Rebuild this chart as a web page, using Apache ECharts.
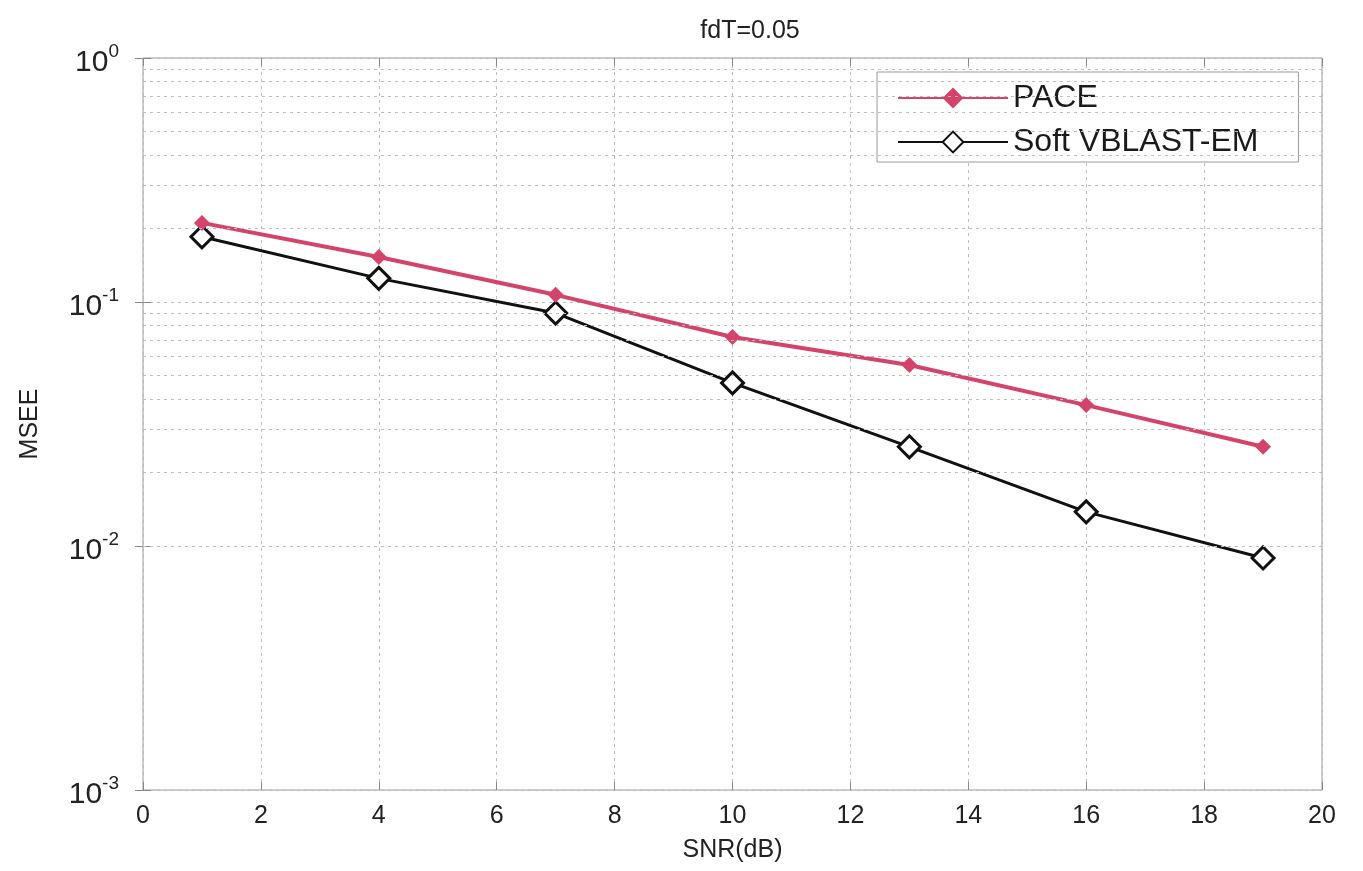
<!DOCTYPE html>
<html>
<head>
<meta charset="utf-8">
<script src="https://cdn.jsdelivr.net/npm/echarts@6/dist/echarts.min.js"></script>
<style>
  html, body { margin: 0; padding: 0; background: #fff; }
  #chart { width: 1363px; height: 871px; }
</style>
</head>
<body>
<div id="chart"></div>
<script>
// 数据
const snr = [1, 4, 7, 10, 13, 16, 19];
const pace = [0.211, 0.153, 0.107, 0.0719, 0.0552, 0.0378, 0.0255];
const softVblast = [0.185, 0.125, 0.0901, 0.0466, 0.0255, 0.0138, 0.00893];
// 对数坐标的次网格线 (2..9 x 10^n)
const minorLevels = [
  0.002, 0.003, 0.004, 0.005, 0.006, 0.007, 0.008, 0.009,
  0.02, 0.03, 0.04, 0.05, 0.06, 0.07, 0.08, 0.09,
  0.2, 0.3, 0.4, 0.5, 0.6, 0.7, 0.8, 0.9
];

const FONT = 'Liberation Sans';
const gridDash = { color: '#bdbdbd', width: 1, type: [3, 4] };

const chart = echarts.init(document.getElementById('chart'));

// y轴标签 10^n
function powLabel (v) {
  const e = Math.round(Math.log10(v));
  return '{b|10}{s|' + e + '}';
}

const option = {
  backgroundColor: '#fff',
  animation: false,
  textStyle: { fontFamily: FONT, color: '#222' },
  title: {
    text: 'fdT=0.05',
    left: 745,
    top: 14,
    textAlign: 'center',
    textStyle: { fontFamily: FONT, fontSize: 25, fontWeight: 'normal', color: '#222' }
  },
  grid: {
    left: 143, right: 41, top: 58, bottom: 81,
    show: true, borderColor: '#999', borderWidth: 1
  },
  legend: {
    orient: 'vertical',
    left: 877,
    top: 72,
    padding: [10, 40, 4, 20],
    itemGap: 12,
    itemWidth: 110,
    itemHeight: 26,
    backgroundColor: '#fff',
    borderColor: '#999',
    borderWidth: 1,
    textStyle: { fontFamily: FONT, fontSize: 32, color: '#1a1a1a' },
    data: ['PACE', 'Soft VBLAST-EM']
  },
  xAxis: [{
    type: 'value',
    min: 0, max: 20, interval: 2,
    name: 'SNR(dB)',
    nameLocation: 'middle',
    nameGap: 48,
    nameTextStyle: { fontFamily: FONT, fontSize: 25, color: '#222' },
    axisLine: { show: false },
    axisTick: { show: true, inside: true, length: 8, lineStyle: { color: '#888' } },
    axisLabel: { fontFamily: FONT, fontSize: 25, color: '#222', margin: 14 },
    splitLine: { show: true, lineStyle: gridDash }
  }, {
    type: 'value',
    position: 'top',
    min: 0, max: 20, interval: 2,
    axisLine: { show: false },
    axisTick: { show: true, inside: true, length: 8, lineStyle: { color: '#888' } },
    axisLabel: { show: false },
    splitLine: { show: false }
  }],
  yAxis: [{
    type: 'log',
    logBase: 10,
    min: 0.001, max: 1,
    name: 'MSEE',
    nameLocation: 'middle',
    nameGap: 100,
    nameTextStyle: { fontFamily: FONT, fontSize: 25, color: '#222' },
    axisLine: { show: false },
    axisTick: { show: true, inside: true, length: 8, lineStyle: { color: '#888' } },
    axisLabel: {
      margin: 24,
      formatter: powLabel,
      rich: {
        b: { fontFamily: FONT, fontSize: 30, color: '#222', padding: [10, 0, 0, 0] },
        s: { fontFamily: FONT, fontSize: 19, color: '#222', padding: [0, 0, 12, 0] }
      }
    },
    splitLine: { show: true, lineStyle: gridDash }
  }, {
    type: 'log',
    logBase: 10,
    min: 0.001, max: 1,
    position: 'right',
    axisLine: { show: false },
    axisTick: { show: true, inside: true, length: 8, lineStyle: { color: '#888' } },
    axisLabel: { show: false },
    splitLine: { show: false }
  }],
  series: [
    {
      // 次网格线
      name: 'minor-grid',
      type: 'line',
      data: [],
      z: 1,
      silent: true,
      markLine: {
        silent: true,
        symbol: 'none',
        label: { show: false },
        lineStyle: gridDash,
        data: minorLevels.map(v => ({ yAxis: v }))
      }
    },
    {
      name: 'PACE',
      type: 'line',
      z: 4,
      data: snr.map((x, i) => [x, pace[i]]),
      symbol: 'diamond',
      symbolSize: 16,
      itemStyle: { color: '#d4436a' },
      lineStyle: { color: '#d4436a', width: 4 }
    },
    {
      name: 'Soft VBLAST-EM',
      type: 'line',
      z: 3,
      data: snr.map((x, i) => [x, softVblast[i]]),
      symbol: 'diamond',
      symbolSize: 22,
      itemStyle: { color: '#fff', borderColor: '#111', borderWidth: 3 },
      lineStyle: { color: '#111', width: 3 }
    }
  ]
};

chart.setOption(option);
</script>
</body>
</html>
